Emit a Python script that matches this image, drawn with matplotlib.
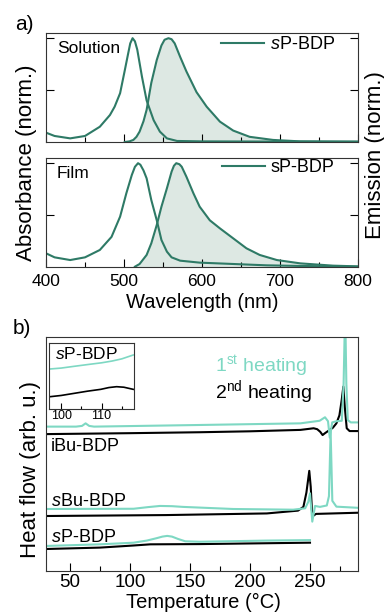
import matplotlib
matplotlib.use("Agg")
import matplotlib.pyplot as plt
from matplotlib.ticker import MultipleLocator

plt.rcParams['font.family'] = ['Liberation Sans', 'DejaVu Sans']
plt.rcParams['mathtext.fontset'] = 'custom'
plt.rcParams['mathtext.rm'] = 'Liberation Sans'
plt.rcParams['mathtext.it'] = 'Liberation Sans:italic'

# ---- panel a: spectra ----
sol_abs_wl = [400, 411, 431, 450, 469, 482, 488, 495, 501, 505, 508, 511, 514, 517, 520, 523, 529, 538, 546, 555, 568, 600, 700, 800]
sol_abs = [0.09, 0.058, 0.035, 0.058, 0.147, 0.26, 0.34, 0.47, 0.69, 0.84, 0.95, 1.0, 0.97, 0.89, 0.76, 0.63, 0.40, 0.21, 0.10, 0.035, 0.01, 0.006, 0.004, 0.003]

sol_em_wl = [501, 507, 512, 516, 520, 525, 529, 535, 542, 548, 552, 557, 561, 565, 572, 580, 593, 606, 623, 640, 661, 691, 726, 800]
sol_em = [0.0, 0.006, 0.02, 0.05, 0.10, 0.2, 0.31, 0.57, 0.79, 0.93, 0.985, 1.0, 0.99, 0.95, 0.82, 0.68, 0.48, 0.34, 0.196, 0.11, 0.05, 0.02, 0.006, 0.003]

film_abs_wl = [400, 411, 431, 450, 469, 484, 495, 503, 510, 514, 518, 521, 525, 529, 535, 542, 548, 555, 561, 572, 597, 640, 683, 726, 800]
film_abs = [0.132, 0.093, 0.067, 0.093, 0.164, 0.29, 0.485, 0.71, 0.886, 0.965, 1.0, 0.985, 0.93, 0.854, 0.645, 0.45, 0.26, 0.148, 0.093, 0.061, 0.042, 0.029, 0.016, 0.01, 0.003]

film_em_wl = [514, 520, 529, 535, 542, 548, 555, 561, 564, 567, 571, 574, 580, 589, 597, 610, 623, 640, 657, 674, 696, 726, 768, 800]
film_em = [0.003, 0.029, 0.116, 0.228, 0.405, 0.581, 0.758, 0.918, 0.975, 1.0, 0.99, 0.966, 0.87, 0.71, 0.581, 0.45, 0.372, 0.276, 0.18, 0.116, 0.067, 0.035, 0.013, 0.006]

# ---- panel b: DSC (arb. units) ----
iBu_T1 = [30, 55, 60, 63, 66, 70, 158, 242, 258, 262.5, 265, 266.5, 268.5, 272, 276.5, 278, 279.3, 280.3, 281.5, 284, 290]
iBu_H1 = [61.7, 61.7, 62.0, 63.1, 62.0, 61.7, 62.4, 63.1, 64.2, 65.7, 64.0, 57.0, 63.5, 64.0, 64.2, 80, 112, 80, 64.5, 63.5, 63.5]
iBu_T2 = [30, 100, 158, 200, 242, 250, 253, 256, 258.5, 260.5, 262.5, 265, 269, 272, 274.5, 276.4, 277.8, 279, 280.6, 283, 290]
iBu_H2 = [58.5, 58.9, 59.3, 59.7, 60.3, 60.8, 61.0, 60.6, 59.5, 58.1, 58.9, 59.8, 61.2, 63.1, 66.5, 73.0, 78.8, 70.0, 61.0, 59.8, 59.8]

sBu_T1 = [30, 103, 115, 125, 135, 144, 186, 236, 246, 248.6, 250, 251.9, 254.2, 258.3, 264, 265.8, 267.2, 268.6, 272, 290]
sBu_H1 = [26.5, 26.6, 27.3, 27.8, 27.7, 27.4, 26.5, 26.2, 26.8, 29.6, 33.2, 21.1, 27.8, 27.4, 28.0, 32.0, 59.5, 30.0, 27.5, 27.0]
sBu_T2 = [30, 130, 214, 240, 244.5, 247, 249.4, 250.6, 251.6, 252.5, 255, 290]
sBu_H2 = [23.5, 23.9, 24.6, 25.8, 27.4, 33.5, 42.8, 36.0, 26.0, 23.5, 24.4, 24.9]

sP_T1 = [30, 75, 103, 114, 122, 127, 131, 135, 140, 146, 158, 214, 250]
sP_H1 = [10.7, 11.4, 12.1, 13.0, 14.0, 14.7, 15.0, 14.7, 13.7, 12.7, 12.5, 13.0, 13.2]
sP_T2 = [30, 75, 103, 117, 158, 250]
sP_H2 = [9.4, 10.0, 10.9, 11.4, 11.5, 12.1]

ins_T1 = [97.2, 100, 103, 107, 110, 112.6, 115, 117.8]
ins_H1 = [0.606, 0.62, 0.645, 0.677, 0.70, 0.727, 0.76, 0.818]
ins_T2 = [97.2, 100, 103.3, 106.5, 109.8, 111.8, 113.7, 115.5, 117.8]
ins_H2 = [0.186, 0.205, 0.238, 0.27, 0.298, 0.325, 0.338, 0.33, 0.298]

dark = '#2e7a66'
fillc = '#dde8e3'
teal = '#7ed8c3'
W, H = 384, 612

fig = plt.figure(figsize=(W / 100, H / 100), dpi=100)


def fbox(left, top, right, bottom):
    return [left / W, 1 - bottom / H, (right - left) / W, (bottom - top) / H]


def spec_panel(box, abs_wl, abs_v, em_wl, em_v, name, leglabel, legy):
    ax = fig.add_axes(box)
    ax.fill_between(em_wl, 0, em_v, color=fillc, lw=0)
    ax.plot(abs_wl, abs_v, color=dark, lw=1.5)
    ax.plot(em_wl, em_v, color=dark, lw=1.5, label=leglabel)
    ax.set_xlim(400, 800)
    ax.set_ylim(0, 1.05)
    ax.set_yticks([0.5, 1.0])
    ax.set_yticklabels([])
    ax.xaxis.set_major_locator(MultipleLocator(100))
    ax.xaxis.set_minor_locator(MultipleLocator(50))
    ax.tick_params(which='both', direction='in', right=True, labelsize=12.5, pad=5)
    ax.tick_params(which='major', length=6, width=0.8)
    ax.tick_params(which='minor', length=3.5, width=0.8)
    ax.text(0.035, 0.86, name, transform=ax.transAxes, fontsize=12.5, va='center')
    ax.legend(loc='upper right', bbox_to_anchor=(0.925, legy), frameon=False,
              fontsize=13, handlelength=2.4, handletextpad=0.3,
              borderpad=0, borderaxespad=0)
    for s in ax.spines.values():
        s.set_linewidth(0.8)
        s.set_color('#333333')
    return ax


ax1 = spec_panel(fbox(46, 33, 358, 142), sol_abs_wl, sol_abs, sol_em_wl, sol_em,
                 'Solution', '$\\it{s}$P-BDP', 0.97)
ax1.set_xticklabels([])
ax2 = spec_panel(fbox(46, 158, 358, 267), film_abs_wl, film_abs, film_em_wl, film_em,
                 'Film', 'sP-BDP', 0.99)

# ---- panel b ----
ax3 = fig.add_axes(fbox(46, 337, 358, 571))
ax3.plot(iBu_T2, iBu_H2, color='black', lw=1.5)
ax3.plot(sBu_T2, sBu_H2, color='black', lw=1.5)
ax3.plot(sP_T2, sP_H2, color='black', lw=1.5)
ax3.plot(iBu_T1, iBu_H1, color=teal, lw=1.5)
ax3.plot(sBu_T1, sBu_H1, color=teal, lw=1.5)
ax3.plot(sP_T1, sP_H1, color=teal, lw=1.5)
ax3.set_xlim(30, 290)
ax3.set_ylim(0, 100)
ax3.set_yticks([])
ax3.xaxis.set_major_locator(MultipleLocator(50))
ax3.xaxis.set_minor_locator(MultipleLocator(25))
ax3.tick_params(which='both', direction='in', labelsize=13.5, pad=2)
ax3.tick_params(which='major', length=6, width=0.8)
ax3.tick_params(which='minor', length=3.5, width=0.8)
for s in ax3.spines.values():
    s.set_linewidth(0.8)
    s.set_color('#333333')

ax3.text(0.016, 0.53, 'iBu-BDP', transform=ax3.transAxes, fontsize=13, va='center')
ax3.text(0.016, 0.299, '$\\it{s}$Bu-BDP', transform=ax3.transAxes, fontsize=13, va='center')
ax3.text(0.016, 0.145, '$\\it{s}$P-BDP', transform=ax3.transAxes, fontsize=13, va='center')
ax3.text(0.542, 0.876, '1$^{\\rm st}$ heating', transform=ax3.transAxes, fontsize=14,
         va='center', color=teal)
ax3.text(0.542, 0.765, '2$^{\\rm nd}$ heating', transform=ax3.transAxes, fontsize=14,
         va='center', color='black')

# inset
axi = fig.add_axes(fbox(49, 343, 134, 409))
axi.plot(ins_T1, ins_H1, color=teal, lw=1.2)
axi.plot(ins_T2, ins_H2, color='black', lw=1.2)
axi.set_xlim(97, 118)
axi.set_ylim(0, 1)
axi.set_yticks([])
axi.set_xticks([100, 110])
axi.xaxis.set_minor_locator(MultipleLocator(5))
axi.tick_params(which='both', direction='in', labelsize=9, pad=1)
axi.tick_params(which='major', length=4, width=0.8)
axi.tick_params(which='minor', length=2.5, width=0.8)
axi.text(0.07, 0.83, '$\\it{s}$P-BDP', transform=axi.transAxes, fontsize=12.5, va='center')
for s in axi.spines.values():
    s.set_linewidth(0.8)
    s.set_color('#333333')

# labels
fig.text(15 / W, 1 - 24 / H, 'a)', fontsize=15, va='center')
fig.text(13 / W, 1 - 329 / H, 'b)', fontsize=15, va='center')
fig.text(27 / W, 1 - 163 / H, 'Absorbance (norm.)', rotation=90, fontsize=16,
         ha='center', va='center')
fig.text(375 / W, 1 - 155 / H, 'Emission (norm.)', rotation=90, fontsize=16,
         ha='center', va='center')
fig.text(202 / W, 1 - 303 / H, 'Wavelength (nm)', fontsize=14.5, ha='center', va='center')
fig.text(31 / W, 1 - 470 / H, 'Heat flow (arb. u.)', rotation=90, fontsize=16,
         ha='center', va='center')
fig.text(203 / W, 1 - 602 / H, 'Temperature (°C)', fontsize=14.5, ha='center', va='center')

fig.savefig('out.png', dpi=100)
